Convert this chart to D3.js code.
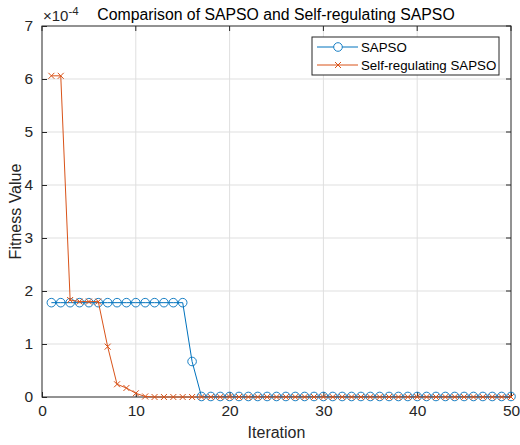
<!DOCTYPE html>
<html lang="en">
<head>
<meta charset="utf-8">
<script src="https://d3js.org/d3.v7.min.js"></script>
<style>
  body { margin: 0; background: #fff; font-family: "Liberation Sans", Arial, sans-serif; }
</style>
</head>
<body>
<svg id="chart" width="520" height="445"></svg>
<script>
// data (fitness x 1e-4)
var iterations = d3.range(1, 51);
var sapso = [1.78, 1.78, 1.78, 1.78, 1.78, 1.78, 1.78, 1.78, 1.78, 1.78,
  1.78, 1.78, 1.78, 1.78, 1.78, 0.67, 0.01, 0.01, 0.01, 0.01,
  0.01, 0.01, 0.01, 0.01, 0.01, 0.01, 0.01, 0.01, 0.01, 0.01,
  0.01, 0.01, 0.01, 0.01, 0.01, 0.01, 0.01, 0.01, 0.01, 0.01,
  0.01, 0.01, 0.01, 0.01, 0.01, 0.01, 0.01, 0.01, 0.01, 0.01];
var selfReg = [6.06, 6.06, 1.83, 1.80, 1.80, 1.80, 0.95, 0.24, 0.17, 0.07,
  0.01, 0.0, 0.0, 0.0, 0.0, 0.0, 0.0, 0.0, 0.0, 0.0,
  0.0, 0.0, 0.0, 0.0, 0.0, 0.0, 0.0, 0.0, 0.0, 0.0,
  0.0, 0.0, 0.0, 0.0, 0.0, 0.0, 0.0, 0.0, 0.0, 0.0,
  0.0, 0.0, 0.0, 0.0, 0.0, 0.0, 0.0, 0.0, 0.0, 0.0];
var seriesNames = ["SAPSO", "Self-regulating SAPSO"];
var xTicks = [0, 10, 20, 30, 40, 50];
var yTicks = [0, 1, 2, 3, 4, 5, 6, 7];

var svg = d3.select("#chart");
var pL = 42, pT = 26, pR = 511, pB = 397;
var blue = "#0072BD", orange = "#D95319";

var x = d3.scaleLinear().domain([0, 50]).range([pL, pR]);
var y = d3.scaleLinear().domain([0, 7]).range([pB, pT]);

// grid
svg.append("g").selectAll("line")
  .data(xTicks.slice(1, -1)).enter().append("line")
  .attr("x1", d => x(d)).attr("x2", d => x(d))
  .attr("y1", pT).attr("y2", pB)
  .style("stroke", "#dfdfdf").style("stroke-width", 1);
svg.append("g").selectAll("line")
  .data(yTicks.slice(1, -1)).enter().append("line")
  .attr("x1", pL).attr("x2", pR)
  .attr("y1", d => y(d)).attr("y2", d => y(d))
  .style("stroke", "#dfdfdf").style("stroke-width", 1);

// axes
var xAxis = svg.append("g").attr("transform", "translate(0," + pB + ")")
  .call(d3.axisBottom(x).tickValues(xTicks).tickFormat(d3.format("d")).tickSize(-5).tickPadding(8));
var yAxis = svg.append("g").attr("transform", "translate(" + pL + ",0)")
  .call(d3.axisLeft(y).tickValues(yTicks).tickFormat(d3.format("d")).tickSize(-5).tickPadding(9));
[xAxis, yAxis].forEach(function (a) {
  a.select(".domain").remove();
  a.selectAll("line").style("stroke", "#262626");
  a.selectAll("text").style("font-size", "15.5px").style("fill", "#262626")
    .style("font-family", "'Liberation Sans', Arial, sans-serif");
});
// top/right ticks
svg.append("g").selectAll("line")
  .data(xTicks).enter().append("line")
  .attr("x1", d => x(d)).attr("x2", d => x(d))
  .attr("y1", pT).attr("y2", pT + 5).style("stroke", "#262626");
svg.append("g").selectAll("line")
  .data(yTicks).enter().append("line")
  .attr("x1", pR).attr("x2", pR - 5)
  .attr("y1", d => y(d)).attr("y2", d => y(d)).style("stroke", "#262626");

// box
svg.append("rect")
  .attr("x", pL).attr("y", pT)
  .attr("width", pR - pL).attr("height", pB - pT)
  .style("fill", "none").style("stroke", "#262626").style("stroke-width", 1);

// exponent
var expo = svg.append("text").attr("x", pL + 1).attr("y", 21)
  .style("font-size", "15px").style("fill", "#262626");
expo.append("tspan").text("\u00d710");
expo.append("tspan").attr("dy", -6).style("font-size", "11.5px").text("-4");

// title and labels
svg.append("text").attr("x", 276).attr("y", 20).attr("text-anchor", "middle")
  .style("font-size", "15.8px").style("fill", "#000")
  .text("Comparison of SAPSO and Self-regulating SAPSO");
svg.append("text").attr("x", (pL + pR) / 2).attr("y", 438).attr("text-anchor", "middle")
  .style("font-size", "16px").style("fill", "#262626").text("Iteration");
svg.append("text").attr("transform", "translate(21," + ((pT + pB) / 2) + ") rotate(-90)")
  .attr("text-anchor", "middle")
  .style("font-size", "16px").style("fill", "#262626").text("Fitness Value");

var line = d3.line().x((d, i) => x(iterations[i])).y(d => y(d));

// SAPSO
svg.append("path").datum(sapso).attr("d", line)
  .style("fill", "none").style("stroke", blue).style("stroke-width", 1);
svg.append("g").selectAll("circle")
  .data(sapso).enter().append("circle")
  .attr("cx", (d, i) => x(iterations[i])).attr("cy", d => y(d))
  .attr("r", 4.3)
  .style("fill", "none").style("stroke", blue).style("stroke-width", 0.9);

// Self-regulating
function cross(g, cx, cy, s, col) {
  g.append("path")
    .attr("d", "M" + (cx - s) + "," + (cy - s) + "L" + (cx + s) + "," + (cy + s) +
      "M" + (cx - s) + "," + (cy + s) + "L" + (cx + s) + "," + (cy - s))
    .style("stroke", col).style("stroke-width", 1).style("fill", "none");
}
svg.append("path").datum(selfReg).attr("d", line)
  .style("fill", "none").style("stroke", orange).style("stroke-width", 1);
var gx = svg.append("g");
selfReg.forEach(function (d, i) { cross(gx, x(iterations[i]), y(d), 3, orange); });

// legend
var lg = svg.append("g");
lg.append("rect").attr("x", 312).attr("y", 37).attr("width", 187).attr("height", 38)
  .style("fill", "#fff").style("stroke", "#262626").style("stroke-width", 1);
var cols = [blue, orange];
seriesNames.forEach(function (n, i) {
  var ly = 47 + i * 18;
  lg.append("line").attr("x1", 317).attr("x2", 358).attr("y1", ly).attr("y2", ly)
    .style("stroke", cols[i]).style("stroke-width", 1);
  if (i === 0) {
    lg.append("circle").attr("cx", 338).attr("cy", ly).attr("r", 4.3)
      .style("fill", "#fff").style("stroke", blue).style("stroke-width", 0.9);
  } else {
    cross(lg, 338, ly, 3, orange);
  }
  lg.append("text").attr("x", 361).attr("y", ly + 5)
    .style("font-size", "13.3px").style("fill", "#000").text(n);
});
</script>
</body>
</html>
